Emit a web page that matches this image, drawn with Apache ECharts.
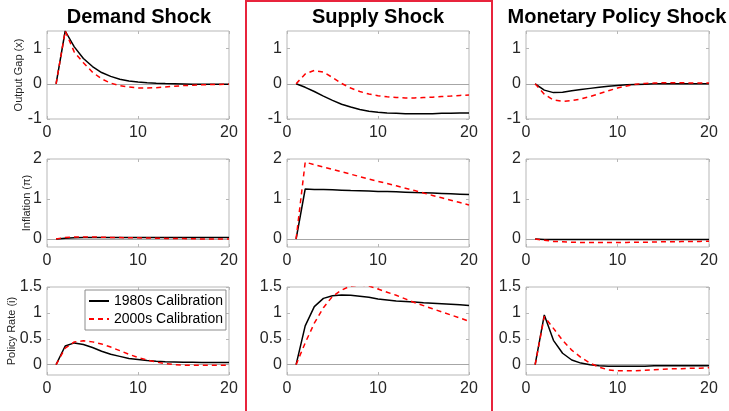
<!DOCTYPE html>
<html>
<head>
<meta charset="utf-8">
<script src="https://cdn.jsdelivr.net/npm/echarts@6/dist/echarts.min.js"></script>
<style>
  html, body { margin: 0; padding: 0; background: #fff; }
  #chartmain { width: 729px; height: 411px; }
</style>
</head>
<body>
<div id="chartmain"></div>
<script>
// periods after the shock
var periods = [1, 2, 3, 4, 5, 6, 7, 8, 9, 10, 11, 12, 13, 14, 15, 16, 17, 18, 19, 20];

var shockTitles = ['Demand Shock', 'Supply Shock', 'Monetary Policy Shock'];
var rowNames = ['Output Gap (x)', 'Inflation (\u03c0)', 'Policy Rate (i)'];
var seriesNames = ['1980s Calibration', '2000s Calibration'];

var xTicks = [0, 10, 20];
var yTicksGap = [-1, 0, 1];
var yTicksInfl = [0, 1, 2];
var yTicksRate = [0, 0.5, 1, 1.5];

// output gap
var gapDemand1980 = [0, 1.5, 1.05, 0.72, 0.49, 0.32, 0.21, 0.13, 0.08, 0.05, 0.03, 0.015, 0.005, 0, -0.005, -0.01, -0.01, -0.01, -0.01, -0.01];
var gapDemand2000 = [0, 1.5, 0.9, 0.6, 0.33, 0.14, 0.02, -0.05, -0.09, -0.12, -0.12, -0.11, -0.09, -0.07, -0.05, -0.04, -0.03, -0.02, -0.02, -0.01];
var gapSupply1980 = [0, -0.1, -0.22, -0.35, -0.47, -0.58, -0.66, -0.73, -0.78, -0.81, -0.83, -0.84, -0.85, -0.85, -0.85, -0.85, -0.84, -0.84, -0.83, -0.83];
var gapSupply2000 = [0, 0.28, 0.38, 0.33, 0.18, 0.01, -0.12, -0.22, -0.29, -0.34, -0.37, -0.39, -0.4, -0.4, -0.39, -0.38, -0.36, -0.35, -0.33, -0.32];
var gapMonetary1980 = [0, -0.18, -0.25, -0.24, -0.2, -0.16, -0.13, -0.1, -0.07, -0.05, -0.03, -0.02, -0.01, 0, 0, 0, 0, 0, 0, 0];
var gapMonetary2000 = [0, -0.3, -0.46, -0.5, -0.48, -0.43, -0.36, -0.28, -0.2, -0.12, -0.06, -0.01, 0.01, 0.02, 0.03, 0.03, 0.03, 0.02, 0.02, 0.02];

// inflation
var inflDemand1980 = [0, 0.02, 0.03, 0.035, 0.04, 0.04, 0.04, 0.04, 0.04, 0.04, 0.04, 0.04, 0.04, 0.04, 0.04, 0.04, 0.04, 0.04, 0.04, 0.04];
var inflDemand2000 = [0, 0.04, 0.05, 0.05, 0.05, 0.045, 0.04, 0.035, 0.03, 0.03, 0.025, 0.02, 0.015, 0.01, 0.01, 0.005, 0, 0, 0, 0];
var inflSupply1980 = [0, 1.25, 1.24, 1.235, 1.23, 1.22, 1.21, 1.205, 1.2, 1.19, 1.185, 1.18, 1.17, 1.16, 1.155, 1.15, 1.14, 1.13, 1.12, 1.11];
var inflSupply2000 = [0, 1.92, 1.86, 1.8, 1.74, 1.68, 1.62, 1.56, 1.5, 1.44, 1.39, 1.33, 1.27, 1.21, 1.15, 1.09, 1.03, 0.97, 0.91, 0.85];
var inflMonetary1980 = [0, -0.01, -0.01, -0.01, -0.01, -0.01, -0.01, -0.01, -0.01, -0.01, -0.01, -0.01, -0.01, -0.01, -0.01, -0.01, -0.01, -0.01, -0.01, -0.01];
var inflMonetary2000 = [0, -0.03, -0.06, -0.07, -0.08, -0.085, -0.09, -0.09, -0.09, -0.09, -0.085, -0.08, -0.08, -0.075, -0.07, -0.07, -0.065, -0.06, -0.06, -0.055];

// policy rate
var rateDemand1980 = [0, 0.36, 0.42, 0.39, 0.33, 0.26, 0.2, 0.16, 0.12, 0.1, 0.08, 0.065, 0.055, 0.05, 0.045, 0.045, 0.04, 0.04, 0.04, 0.04];
var rateDemand2000 = [0, 0.32, 0.44, 0.46, 0.44, 0.4, 0.34, 0.27, 0.2, 0.14, 0.09, 0.05, 0.02, 0, -0.01, -0.01, -0.01, -0.01, -0.01, -0.01];
var rateSupply1980 = [0, 0.75, 1.12, 1.28, 1.33, 1.345, 1.34, 1.32, 1.3, 1.27, 1.25, 1.23, 1.22, 1.21, 1.195, 1.185, 1.175, 1.165, 1.155, 1.145];
var rateSupply2000 = [0, 0.42, 0.8, 1.1, 1.32, 1.44, 1.52, 1.54, 1.52, 1.46, 1.4, 1.34, 1.27, 1.2, 1.14, 1.08, 1.02, 0.96, 0.9, 0.84];
var rateMonetary1980 = [0, 0.96, 0.47, 0.22, 0.09, 0.03, 0, -0.02, -0.03, -0.03, -0.03, -0.03, -0.03, -0.02, -0.02, -0.02, -0.02, -0.02, -0.02, -0.02];
var rateMonetary2000 = [0, 0.93, 0.7, 0.47, 0.28, 0.14, 0.03, -0.05, -0.1, -0.12, -0.12, -0.12, -0.11, -0.1, -0.09, -0.08, -0.08, -0.07, -0.07, -0.06];

var panelData = [
    [[gapDemand1980, gapDemand2000], [gapSupply1980, gapSupply2000], [gapMonetary1980, gapMonetary2000]],
    [[inflDemand1980, inflDemand2000], [inflSupply1980, inflSupply2000], [inflMonetary1980, inflMonetary2000]],
    [[rateDemand1980, rateDemand2000], [rateSupply1980, rateSupply2000], [rateMonetary1980, rateMonetary2000]]
];

var rows = [
    { min: -1, max: 1.5, ticks: yTicksGap, nameGap: 23 },
    { min: -0.2, max: 2, ticks: yTicksInfl, nameGap: 15 },
    { min: -0.2, max: 1.5, ticks: yTicksRate, nameGap: 30 }
];

var colLeft = [47, 287, 526];
var colWidth = [182, 182, 183];
var rowTop = [31, 159, 287];
var rowHeight = 88;

var FONT = '"Liberation Sans", Arial, sans-serif';
var BOX = '#b7b7b7';
var TEXT = '#262626';

var option = {
    animation: false,
    grid: [],
    xAxis: [],
    yAxis: [],
    series: [],
    legend: {
        data: seriesNames,
        left: 85,
        top: 290,
        orient: 'vertical',
        itemWidth: 20,
        itemHeight: 14,
        itemGap: 4,
        padding: [4, 3, 4, 3],
        borderColor: '#8c8c8c',
        borderWidth: 1,
        backgroundColor: '#fff',
        itemStyle: { opacity: 0 },
        textStyle: { fontSize: 14, color: '#000', fontFamily: FONT }
    },
    graphic: []
};

for (var r = 0; r < 3; r++) {
    for (var c = 0; c < 3; c++) {
        var idx = r * 3 + c;
        var row = rows[r];
        option.grid.push({
            left: colLeft[c], top: rowTop[r], width: colWidth[c], height: rowHeight,
            show: true, borderColor: BOX, borderWidth: 1, backgroundColor: '#fff'
        });
        ['bottom', 'top'].forEach(function (pos) {
            option.xAxis.push({
                type: 'value', gridIndex: idx, position: pos, min: 0, max: 20,
                axisLine: { show: false, onZero: false },
                axisTick: { show: true, inside: true, length: 3, customValues: xTicks, lineStyle: { color: BOX } },
                axisLabel: { show: pos === 'bottom', customValues: xTicks, fontSize: 16, color: TEXT, margin: 6, fontFamily: FONT },
                splitLine: { show: false }
            });
        });
        ['left', 'right'].forEach(function (pos) {
            var ax = {
                type: 'value', gridIndex: idx, position: pos, min: row.min, max: row.max,
                axisLine: { show: false, onZero: false },
                axisTick: { show: true, inside: true, length: 3, customValues: row.ticks, lineStyle: { color: BOX } },
                axisLabel: { show: pos === 'left', customValues: row.ticks, fontSize: 16, color: TEXT, margin: 5, fontFamily: FONT },
                splitLine: { show: false }
            };
            if (pos === 'left' && c === 0) {
                ax.name = rowNames[r];
                ax.nameLocation = 'middle';
                ax.nameRotate = 90;
                ax.nameGap = row.nameGap;
                ax.nameMoveOverlap = false;
                ax.nameTextStyle = { fontSize: 11, color: TEXT, fontFamily: FONT };
            }
            option.yAxis.push(ax);
        });
        var pair = panelData[r][c];
        for (var k = 0; k < 2; k++) {
            var vals = pair[k];
            var s = {
                name: seriesNames[k],
                type: 'line',
                xAxisIndex: idx * 2,
                yAxisIndex: idx * 2,
                symbol: 'none',
                z: 3 + k,
                data: periods.map(function (p, i) { return [p, vals[i]]; }),
                lineStyle: k === 0
                    ? { color: '#000', width: 1.5, type: 'solid' }
                    : { color: '#ff0000', width: 1.5, type: [5, 4] },
                itemStyle: { color: k === 0 ? '#000' : '#ff0000' }
            };
            if (k === 0) {
                s.markLine = {
                    silent: true, symbol: 'none', z: 1, animation: false,
                    label: { show: false },
                    lineStyle: { color: '#a6a6a6', type: 'solid', width: 1 },
                    data: [{ yAxis: 0 }]
                };
            }
            option.series.push(s);
        }
    }
}

var titleX = [139, 378, 617];
shockTitles.forEach(function (t, i) {
    option.graphic.push({
        type: 'text', x: titleX[i], y: 17, z: 10,
        style: { text: t, font: 'bold 20px ' + FONT, fill: '#000', textAlign: 'center', textVerticalAlign: 'middle' }
    });
});
option.graphic.push({
    type: 'rect', z: 10, silent: true,
    shape: { x: 246, y: 1, width: 246, height: 420 },
    style: { fill: 'none', stroke: '#e8243c', lineWidth: 2 }
});

var chart = echarts.init(document.getElementById('chartmain'));
chart.setOption(option);
</script>
</body>
</html>
